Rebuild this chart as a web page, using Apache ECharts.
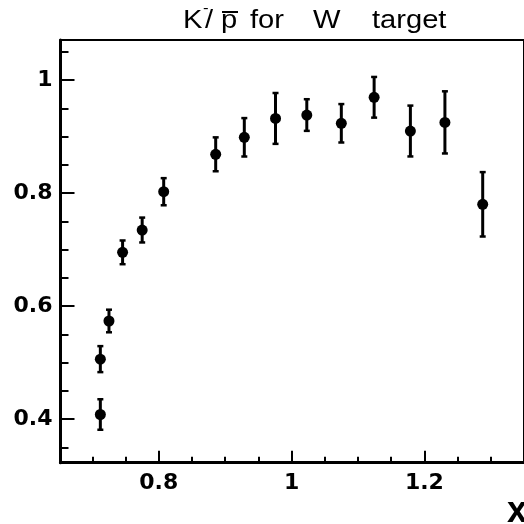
<!DOCTYPE html>
<html>
<head>
<meta charset="utf-8">
<script src="https://cdn.jsdelivr.net/npm/echarts@6/dist/echarts.min.js"></script>
<style>html,body{margin:0;padding:0;background:#fff;}#c{width:524px;height:524px;}</style>
</head>
<body>
<div id="c"></div>
<script>
// ---- data ----
var xValues = [0.712, 0.712, 0.725, 0.7455, 0.775, 0.8074, 0.8857, 0.9288, 0.9758, 1.0229, 1.0749, 1.1243, 1.1789, 1.2309, 1.2878];
var yValues = [0.408, 0.506, 0.5735, 0.695, 0.7345, 0.8023, 0.8685, 0.8986, 0.932, 0.938, 0.9234, 0.9694, 0.9097, 0.925, 0.780];
var yErrors = [0.027, 0.023, 0.020, 0.021, 0.022, 0.024, 0.030, 0.034, 0.045, 0.028, 0.034, 0.036, 0.045, 0.055, 0.057];
var xMajorTicks = [0.8, 1.0, 1.2];
var xMajorLabels = ['0.8', '1', '1.2'];
var xMinorTicks = [0.7, 0.75, 0.85, 0.9, 0.95, 1.05, 1.1, 1.15, 1.25, 1.3];
var yMajorTicks = [0.4, 0.6, 0.8, 1.0];
var yMajorLabels = ['0.4', '0.6', '0.8', '1'];
var yMinorTicks = [0.35, 0.45, 0.5, 0.55, 0.65, 0.7, 0.75, 0.85, 0.9, 0.95, 1.05];
var xRange = [0.652, 1.35];
var yRange = [0.3227, 1.0708];
var xTitle = 'x';
var titleParts = ['K', '-', '/', 'p', 'for', 'W', 'target'];

var points = xValues.map(function (x, i) { return [x, yValues[i]]; });
var bars = xValues.map(function (x, i) { return [x, yValues[i] - yErrors[i], yValues[i] + yErrors[i]]; });

function labelFor(ticks, labels) {
  return function (v) {
    for (var i = 0; i < ticks.length; i++) if (Math.abs(ticks[i] - v) < 1e-6) return labels[i];
    return '';
  };
}

var chart = echarts.init(document.getElementById('c'), null, {renderer: 'canvas'});
var labelFont = {color: '#000', fontFamily: 'DejaVu Sans', fontWeight: 'bold', fontSize: 22};
var tFont = '26px "Liberation Sans"';
function tText(str, x, y, font) {
  return {type: 'text', x: x, y: y, scaleX: 1.12, style: {text: str, font: font || tFont, fill: '#000', textVerticalAlign: 'top'}};
}

chart.setOption({
  animation: false,
  backgroundColor: '#fff',
  grid: {left: 60.5, top: 40, right: -6.3, bottom: 61.3, show: true, borderColor: '#000', borderWidth: 2, backgroundColor: 'transparent'},
  xAxis: [
    {type: 'value', min: xRange[0], max: xRange[1], position: 'bottom',
     axisLine: {show: true, onZero: false, lineStyle: {color: '#000', width: 3}},
     axisTick: {show: true, inside: true, length: 12, lineStyle: {color: '#000', width: 2}, customValues: xMajorTicks},
     axisLabel: Object.assign({show: true, margin: 10, customValues: xMajorTicks, formatter: labelFor(xMajorTicks, xMajorLabels)}, labelFont),
     splitLine: {show: false}},
    {type: 'value', min: xRange[0], max: xRange[1], position: 'bottom',
     axisLine: {show: false},
     axisTick: {show: true, inside: true, length: 6, lineStyle: {color: '#000', width: 2}, customValues: xMinorTicks},
     axisLabel: {show: false}, splitLine: {show: false}}
  ],
  yAxis: [
    {type: 'value', min: yRange[0], max: yRange[1], position: 'left',
     axisLine: {show: true, onZero: false, lineStyle: {color: '#000', width: 3}},
     axisTick: {show: true, inside: true, length: 14, lineStyle: {color: '#000', width: 2}, customValues: yMajorTicks},
     axisLabel: Object.assign({show: true, margin: 8, customValues: yMajorTicks, formatter: labelFor(yMajorTicks, yMajorLabels)}, labelFont),
     splitLine: {show: false}},
    {type: 'value', min: yRange[0], max: yRange[1], position: 'left',
     axisLine: {show: false},
     axisTick: {show: true, inside: true, length: 8, lineStyle: {color: '#000', width: 2}, customValues: yMinorTicks},
     axisLabel: {show: false}, splitLine: {show: false}}
  ],
  graphic: [
    tText(titleParts[0], 183, 8),
    tText(titleParts[1], 203, 1, '15px "Liberation Sans"'),
    tText(titleParts[2], 205, 8),
    tText(titleParts[3], 221, 8),
    {type: 'line', shape: {x1: 222, y1: 12, x2: 238, y2: 12}, style: {stroke: '#000', lineWidth: 2}},
    tText(titleParts[4], 250, 8),
    tText(titleParts[5], 313, 8),
    tText(titleParts[6], 372, 8),
    {type: 'text', x: 507, y: 494, style: {text: xTitle, font: 'bold 36px "Liberation Sans"', fill: '#000', textVerticalAlign: 'top'}}
  ],
  series: [
    {type: 'custom', xAxisIndex: 0, yAxisIndex: 0, data: bars, clip: false,
     renderItem: function (params, api) {
       var x = api.value(0);
       var top = api.coord([x, api.value(2)]);
       var bot = api.coord([x, api.value(1)]);
       var c = 3;
       var st = {stroke: '#000', lineWidth: 3};
       var st2 = {stroke: '#000', lineWidth: 2.5};
       return {type: 'group', children: [
         {type: 'line', shape: {x1: top[0], y1: top[1], x2: bot[0], y2: bot[1]}, style: st},
         {type: 'line', shape: {x1: top[0] - c, y1: top[1], x2: top[0] + c, y2: top[1]}, style: st2},
         {type: 'line', shape: {x1: bot[0] - c, y1: bot[1], x2: bot[0] + c, y2: bot[1]}, style: st2}
       ]};
     }},
    {type: 'scatter', xAxisIndex: 0, yAxisIndex: 0, data: points, symbol: 'circle', symbolSize: 11,
     itemStyle: {color: '#000', opacity: 1}}
  ]
});
</script>
</body>
</html>
